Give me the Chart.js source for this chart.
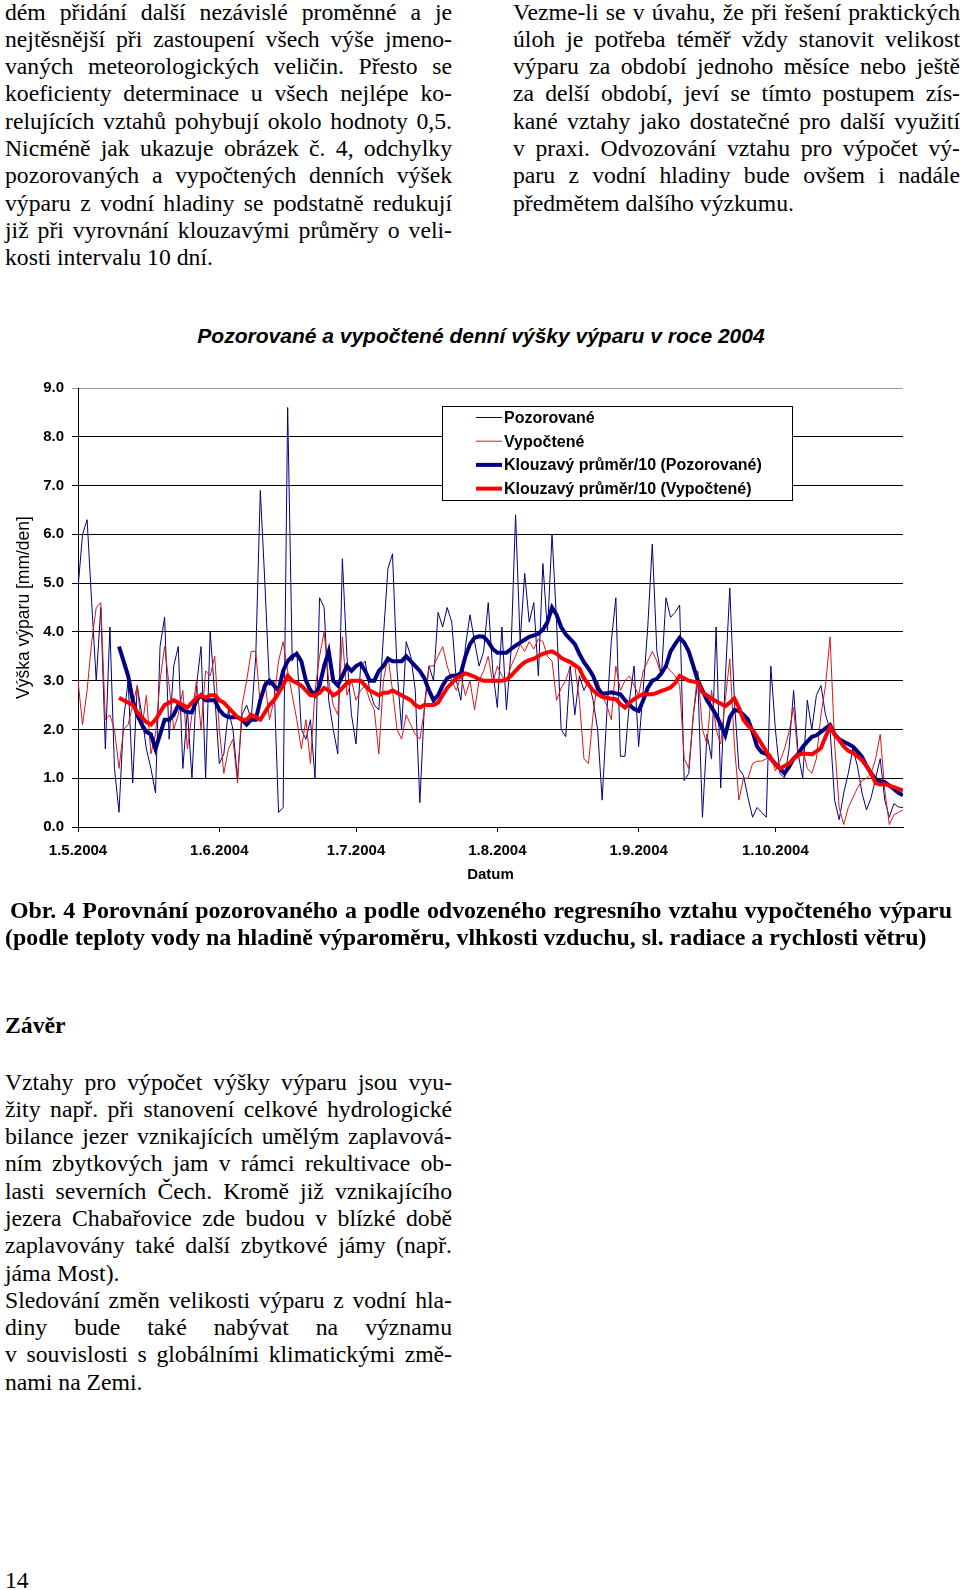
<!DOCTYPE html>
<html lang="cs">
<head>
<meta charset="UTF-8">
<title>Obr. 4 - Pozorované a vypočtené denní výšky výparu</title>
<script src="https://cdn.jsdelivr.net/npm/chart.js@4"></script>
<style>
  html, body { margin: 0; padding: 0; background: #fff; }
  body { width: 960px; height: 1590px; position: relative; overflow: hidden;
         font-family: "Liberation Serif", "Times New Roman", serif; color: #000; }
  .col { position: absolute; width: 447px; font-size: 23.7px; line-height: 27.3px; }
  .col div { height: 27.3px; text-align: justify; text-align-last: justify; }
  .col div.end { text-align-last: left; }
  .cap { position: absolute; font-weight: bold; font-size: 23.9px; line-height: 27px; }
  #title { position: absolute; left: 0; top: 323px; width: 962px; text-align: center;
           font: italic bold 21px "Liberation Sans", Arial, sans-serif; line-height: 25px; }
  #wrap { position: absolute; left: 0; top: 300px; width: 960px; height: 600px; }
</style>
</head>
<body>

<div class="col" style="left:5px; top:-1.5px;">
  <div>dém přidání další nezávislé proměnné a je</div>
  <div>nejtěsnější při zastoupení všech výše jmeno-</div>
  <div>vaných meteorologických veličin. Přesto se</div>
  <div>koeficienty determinace u všech nejlépe ko-</div>
  <div>relujících vztahů pohybují okolo hodnoty 0,5.</div>
  <div>Nicméně jak ukazuje obrázek č. 4, odchylky</div>
  <div>pozorovaných a vypočtených denních výšek</div>
  <div>výparu z vodní hladiny se podstatně redukují</div>
  <div>již při vyrovnání klouzavými průměry o veli-</div>
  <div class="end">kosti intervalu 10 dní.</div>
</div>

<div class="col" style="left:513px; top:-1.5px;">
  <div>Vezme-li se v úvahu, že při řešení praktických</div>
  <div>úloh je potřeba téměř vždy stanovit velikost</div>
  <div>výparu za období jednoho měsíce nebo ještě</div>
  <div>za delší období, jeví se tímto postupem zís-</div>
  <div>kané vztahy jako dostatečné pro další využití</div>
  <div>v praxi. Odvozování vztahu pro výpočet vý-</div>
  <div>paru z vodní hladiny bude ovšem i nadále</div>
  <div class="end">předmětem dalšího výzkumu.</div>
</div>

<div id="title">Pozorované a vypočtené denní výšky výparu v roce 2004</div>

<div id="wrap"><canvas id="evapChart"></canvas></div>

<div class="cap" style="left:10px; top:897px; width:942px; text-align:justify; text-align-last:justify;">Obr. 4 Porovnání pozorovaného a podle odvozeného regresního vztahu vypočteného výparu</div>
<div class="cap" style="left:5px; top:924px; white-space:nowrap;">(podle teploty vody na hladině výparoměru, vlhkosti vzduchu, sl. radiace a rychlosti větru)</div>

<div class="cap" style="left:5px; top:1012px; font-size:23.7px;">Závěr</div>

<div class="col" style="left:5px; top:1068.5px;">
  <div>Vztahy pro výpočet výšky výparu jsou vyu-</div>
  <div>žity např. při stanovení celkové hydrologické</div>
  <div>bilance jezer vznikajících umělým zaplavová-</div>
  <div>ním zbytkových jam v rámci rekultivace ob-</div>
  <div>lasti severních Čech. Kromě již vznikajícího</div>
  <div>jezera Chabařovice zde budou v blízké době</div>
  <div>zaplavovány také další zbytkové jámy (např.</div>
  <div class="end">jáma Most).</div>
  <div>Sledování změn velikosti výparu z vodní hla-</div>
  <div>diny bude také nabývat na významu</div>
  <div>v souvislosti s globálními klimatickými změ-</div>
  <div class="end">nami na Zemi.</div>
</div>

<div class="col" style="left:5px; top:1567px;">14</div>

<script>
// den 0 = 1.5.2004, denní hodnoty výšky výparu [mm/den]
const monthTickDays = [0, 31, 61, 92, 123, 153];
const monthTickLabels = ['1.5.2004', '1.6.2004', '1.7.2004', '1.8.2004', '1.9.2004', '1.10.2004'];

// Pozorované
const observed = [
  4.9, 6.0, 6.3, 4.6, 3.0, 4.5, 1.6, 4.1, 1.2, 0.3,
  2.2, 3.0, 0.9, 2.9, 2.3, 1.6, 1.2, 0.7, 3.7, 4.3,
  1.8, 3.3, 3.7, 1.2, 2.4, 1.0, 2.9, 3.7, 1.0, 4.0,
  2.7, 1.3, 1.5, 2.4, 2.0, 1.0, 2.3, 2.5, 2.2, 3.5,
  6.9, 5.0, 2.9, 3.0, 0.3, 0.4, 8.6, 3.4, 3.6, 2.0,
  1.8, 2.2, 1.0, 4.7, 4.5, 2.6, 2.0, 1.5, 5.5, 3.5,
  2.3, 1.7, 3.3, 3.4, 2.8, 2.5, 2.4, 3.9, 5.3, 5.6,
  3.2, 2.0, 3.8, 3.5, 2.8, 0.5, 2.5, 3.3, 3.0, 4.4,
  4.1, 4.5, 4.2, 3.0, 2.6, 3.7, 4.35, 3.8, 3.3, 3.6,
  4.6, 3.2, 2.45, 4.1, 2.4, 3.6, 6.4, 3.8, 5.2, 4.2,
  4.6, 3.1, 5.4, 4.0, 6.0, 4.2, 2.0, 1.85, 3.3, 2.3,
  3.1, 2.8, 3.0, 2.6, 2.0, 0.55, 2.3, 3.8, 4.7, 1.45,
  1.45, 2.6, 3.3, 1.65, 2.8, 4.1, 5.8, 3.6, 3.1, 4.7,
  4.3, 4.4, 4.55, 0.95, 1.1, 2.3, 3.0, 0.2, 1.9, 1.4,
  4.1, 0.8, 3.0, 4.9, 2.6, 1.2, 1.05, 0.6, 0.2, 0.4,
  0.3, 0.2, 3.3, 2.0, 1.1, 1.0, 1.6, 2.8, 1.5, 1.0,
  2.6, 2.0, 2.7, 2.9, 2.3, 2.0, 0.55, 0.15, 0.7, 1.1,
  1.6, 1.25, 0.7, 0.35, 0.6, 1.0, 1.4, 0.55, 0.2, 0.48,
  0.41, 0.4
];

// Vypočtené
const calculated = [
  3.0, 2.1, 2.8, 3.8, 4.5, 4.6, 2.2, 2.3, 2.0, 1.2,
  2.0, 2.1, 2.5, 2.9, 2.0, 2.7, 1.5, 1.9, 3.0, 3.7,
  2.9, 2.0, 2.3, 2.8, 1.6, 2.3, 3.0, 2.0, 3.2, 3.1,
  3.5, 2.0, 1.1, 1.6, 1.8, 0.9, 2.5, 3.0, 3.6, 3.6,
  2.5, 3.0, 2.2, 2.6, 3.4, 3.8, 3.2, 2.7, 2.2, 1.6,
  2.2, 1.3, 2.8, 3.5, 4.0, 3.0, 2.5, 2.3, 3.9, 2.7,
  3.0, 2.6, 2.8, 2.9, 2.6, 2.4, 1.5, 3.0, 3.5, 2.8,
  2.0, 1.8, 2.3, 2.1, 1.9, 1.8, 2.4, 3.3, 3.3, 3.5,
  3.7, 3.3, 3.0, 2.8, 3.1, 2.7, 3.0, 2.4, 3.0, 3.2,
  3.5, 2.95, 3.3, 3.1, 3.0, 3.3, 3.5, 3.75, 3.6, 3.8,
  3.65, 3.85, 3.8, 3.5, 3.4, 2.6, 2.85, 3.0, 3.3, 3.3,
  2.6, 1.4, 1.3, 2.3, 3.0, 2.7, 2.5, 2.2, 3.3, 2.8,
  3.0, 3.1, 2.9, 2.7, 3.2, 3.4, 3.6, 3.4, 3.1, 3.3,
  3.2, 3.1, 2.9, 1.4, 1.2, 2.3, 3.2, 2.0, 1.7, 2.8,
  2.0, 1.7, 2.6, 3.45, 1.7, 0.55, 1.0, 1.0, 1.3, 1.35,
  1.35, 1.4, 1.5, 1.15, 1.35, 1.6, 1.95, 2.45, 1.4, 1.6,
  1.2, 1.1, 1.4, 2.3, 2.9, 3.9, 1.7, 0.4, 0.05, 0.4,
  0.6, 0.8, 0.95, 1.0, 1.1, 1.4, 1.9, 0.75, 0.05, 0.25,
  0.3, 0.35
];

// Klouzavý průměr/10 (Pozorované)
const movingObserved = [
  null, null, null, null, null, null, null, null, null,
  3.7, 3.4, 3.1, 2.6, 2.3, 2.1, 1.95, 1.9, 1.6, 1.9, 2.2,
  2.2, 2.3, 2.5, 2.4, 2.35, 2.35, 2.6, 2.7, 2.6, 2.6,
  2.6, 2.4, 2.3, 2.25, 2.25, 2.25, 2.2, 2.1, 2.2, 2.2,
  2.6, 2.9, 3.0, 2.9, 2.8, 3.2, 3.4, 3.5, 3.55, 3.4,
  3.0, 2.8, 2.7, 2.9, 3.3, 3.6, 3.0, 2.9, 3.1, 3.3,
  3.2, 3.3, 3.35, 3.2, 3.0, 3.0, 3.2, 3.3, 3.45, 3.4,
  3.4, 3.4, 3.5, 3.4, 3.3, 3.2, 3.05, 2.8, 2.6, 2.7,
  2.9, 3.05, 3.1, 3.1, 3.15, 3.5, 3.75, 3.88, 3.91, 3.9,
  3.8, 3.65, 3.57, 3.57, 3.57, 3.65, 3.72, 3.78, 3.84, 3.9,
  3.93, 3.96, 4.05, 4.2, 4.5, 4.35, 4.1, 3.95, 3.85, 3.75,
  3.55, 3.38, 3.25, 3.1, 2.85, 2.73, 2.74, 2.76, 2.74, 2.72,
  2.6, 2.5, 2.42, 2.38, 2.6, 2.85, 3.0, 3.04, 3.15, 3.3,
  3.6, 3.75, 3.88, 3.78, 3.6, 3.3, 3.0, 2.8, 2.6, 2.45,
  2.3, 2.1, 1.88, 2.25, 2.4, 2.38, 2.3, 2.2, 1.95, 1.65,
  1.53, 1.5, 1.4, 1.3, 1.2, 1.1, 1.23, 1.4, 1.5, 1.64,
  1.75, 1.85, 1.88, 1.95, 2.02, 2.09, 1.9, 1.8, 1.75, 1.7,
  1.65, 1.55, 1.44, 1.25, 1.1, 0.98, 0.94, 0.92, 0.85, 0.78,
  0.7, 0.65
];

// Klouzavý průměr/10 (Vypočtené)
const movingCalculated = [
  null, null, null, null, null, null, null, null, null,
  2.65, 2.6, 2.55, 2.5, 2.35, 2.25, 2.15, 2.1, 2.2, 2.35, 2.5,
  2.55, 2.6, 2.55, 2.5, 2.45, 2.55, 2.65, 2.7, 2.65, 2.7,
  2.7, 2.6, 2.55, 2.45, 2.35, 2.25, 2.2, 2.2, 2.3, 2.25,
  2.2, 2.35, 2.5, 2.6, 2.75, 2.9, 3.1, 3.0, 2.95, 2.9,
  2.8, 2.7, 2.7, 2.75, 2.85, 2.8, 2.7, 2.75, 2.85, 2.95,
  3.0, 3.0, 3.0, 2.9, 2.8, 2.75, 2.7, 2.75, 2.75, 2.8,
  2.75, 2.7, 2.65, 2.6, 2.5, 2.45, 2.5, 2.5, 2.5, 2.55,
  2.7, 2.85, 2.95, 3.05, 3.1, 3.15, 3.12, 3.08, 3.03, 3.0,
  3.0, 3.0, 3.0, 3.0, 3.02, 3.1, 3.2, 3.3, 3.38, 3.42,
  3.45, 3.5, 3.55, 3.58, 3.6, 3.55, 3.47, 3.42, 3.38, 3.32,
  3.25, 3.05, 2.92, 2.8, 2.72, 2.67, 2.65, 2.63, 2.62, 2.52,
  2.45, 2.55, 2.62, 2.68, 2.72, 2.72, 2.72, 2.75, 2.79, 2.82,
  2.86, 2.95, 3.1, 3.05, 3.0, 2.98, 2.96, 2.76, 2.7, 2.63,
  2.58, 2.53, 2.48, 2.55, 2.64, 2.45, 2.2, 2.08, 1.99, 1.85,
  1.7, 1.55, 1.4, 1.28, 1.2, 1.25, 1.3, 1.4, 1.48, 1.5,
  1.5, 1.49, 1.55, 1.62, 1.85, 2.05, 1.9, 1.78, 1.65, 1.56,
  1.52, 1.45, 1.37, 1.25, 1.1, 0.9, 0.87, 0.88, 0.85, 0.82,
  0.78, 0.75
];

const lastDay = observed.length - 1;
const toPoints = arr => arr.map((v, i) => ({ x: i, y: v }));

// legenda v rámečku uvnitř grafu
const legendBox = {
  id: 'legendBox',
  afterDraw(chart) {
    const ctx = chart.ctx;
    const x = 442, y = 106, w = 350, h = 94;
    ctx.save();
    ctx.fillStyle = '#fff';
    ctx.fillRect(x, y, w, h);
    ctx.strokeStyle = '#000';
    ctx.lineWidth = 1;
    ctx.strokeRect(x + 0.5, y + 0.5, w, h);
    ctx.font = 'bold 16px "Liberation Sans", Arial, sans-serif';
    ctx.textBaseline = 'middle';
    ctx.textAlign = 'left';
    chart.data.datasets.forEach((ds, i) => {
      const ly = y + 11.5 + i * 23.7;
      ctx.strokeStyle = ds.borderColor;
      ctx.lineWidth = ds.borderWidth;
      ctx.beginPath();
      ctx.moveTo(476, ly);
      ctx.lineTo(502, ly);
      ctx.stroke();
      ctx.fillStyle = '#000';
      ctx.fillText(ds.label, 504, ly + 1);
    });
    ctx.restore();
  }
};

Chart.defaults.font.family = '"Liberation Sans", Arial, sans-serif';
Chart.defaults.color = '#000';

const ctx = document.getElementById('evapChart').getContext('2d');
new Chart(ctx, {
  type: 'line',
  data: {
    datasets: [{
      label: 'Pozorované',
      data: toPoints(observed),
      borderColor: '#000080',
      borderWidth: 1,
      order: 4
    }, {
      label: 'Vypočtené',
      data: toPoints(calculated),
      borderColor: '#d81818',
      borderWidth: 1,
      order: 3
    }, {
      label: 'Klouzavý průměr/10 (Pozorované)',
      data: toPoints(movingObserved),
      borderColor: '#000080',
      borderWidth: 4,
      order: 2
    }, {
      label: 'Klouzavý průměr/10 (Vypočtené)',
      data: toPoints(movingCalculated),
      borderColor: '#ff0000',
      borderWidth: 4,
      order: 1
    }]
  },
  options: {
    responsive: true,
    maintainAspectRatio: false,
    animation: false,
    layout: { padding: { top: 88, right: 57, bottom: 0, left: 0 } },
    elements: { point: { radius: 0 }, line: { tension: 0 } },
    plugins: { legend: { display: false }, tooltip: { enabled: false } },
    scales: {
      x: {
        type: 'linear',
        min: 0,
        max: lastDay,
        afterBuildTicks: s => { s.ticks = monthTickDays.map(v => ({ value: v })); },
        afterFit: s => { s.height = 73; },
        ticks: {
          autoSkip: false,
          maxRotation: 0,
          padding: 10,
          font: { size: 15, weight: 'bold' },
          callback: (v, i) => monthTickLabels[i]
        },
        grid: { drawOnChartArea: false, drawTicks: true, tickLength: 5, color: '#000' },
        border: { display: true, color: '#000', width: 1 },
        title: { display: true, text: 'Datum', font: { size: 15, weight: 'bold' }, padding: { top: 0, bottom: 16 } }
      },
      y: {
        min: 0,
        max: 9,
        afterFit: s => { s.width = 78; },
        ticks: {
          stepSize: 1,
          padding: 8,
          font: { size: 15, weight: 'bold' },
          callback: v => v.toFixed(1)
        },
        grid: {
          color: c => (c.tick && c.tick.value === 9) ? '#9a9a9a' : '#000',
          lineWidth: 1,
          drawTicks: true,
          tickLength: 6
        },
        border: { display: true, color: '#000', width: 1 },
        title: { display: true, text: 'Výška výparu [mm/den]', font: { size: 17.5 }, padding: { top: 14, bottom: 0 } }
      }
    }
  },
  plugins: [legendBox]
});
</script>
</body>
</html>
